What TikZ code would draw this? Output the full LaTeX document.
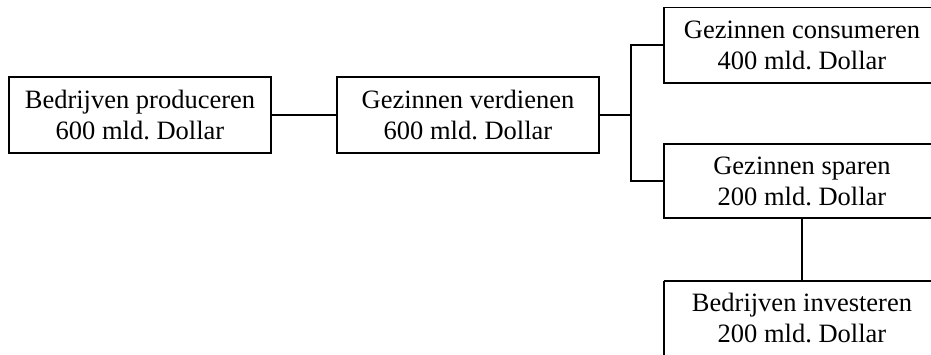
\documentclass[tikz,border=0pt]{standalone}
\usepackage{fontspec}
\setmainfont{Liberation Serif}
\frenchspacing
\begin{document}
\begin{tikzpicture}[x=1pt,y=1pt,
  box/.style={draw, line width=1.6pt, align=center, inner sep=0pt,
    font=\fontsize{26.5}{31}\selectfont},
  txt/.style={align=center, inner sep=0pt, font=\fontsize{26.5}{31}\selectfont},
  conn/.style={line width=1.6pt}]
\useasboundingbox (0,0) rectangle (931,-354);
\clip (0,0) rectangle (931,-354);
\node[box, minimum width=262, minimum height=76] (b1) at (140,-115) {Bedrijven produceren\\600 mld. Dollar};
\node[box, minimum width=262, minimum height=76] (b2) at (468,-115) {Gezinnen verdienen\\600 mld. Dollar};
\node[txt, minimum width=276, minimum height=75] (b3) at (802,-45) {Gezinnen consumeren\\400 mld. Dollar};
\node[txt, minimum width=276, minimum height=74] (b4) at (802,-181) {Gezinnen sparen\\200 mld. Dollar};
\node[txt, minimum width=276, minimum height=74] (b5) at (802,-318) {Bedrijven investeren\\200 mld. Dollar};
\draw[conn] (b3.north west) rectangle ([xshift=40pt]b3.south east);
\draw[conn] (b4.north west) rectangle ([xshift=40pt]b4.south east);
\draw[conn] (b5.north west) -- ([xshift=40pt]b5.north east);
\draw[conn] (b5.north west) -- ([yshift=-20pt]b5.south west);
\draw[conn] (b1.east) -- (b2.west);
\draw[conn] (b2.east) -- (631,-115) coordinate (j);
\draw[conn] (b3.west) -| (j) |- (b4.west);
\draw[conn] (b4.south) -- (b5.north);
\end{tikzpicture}
\end{document}
